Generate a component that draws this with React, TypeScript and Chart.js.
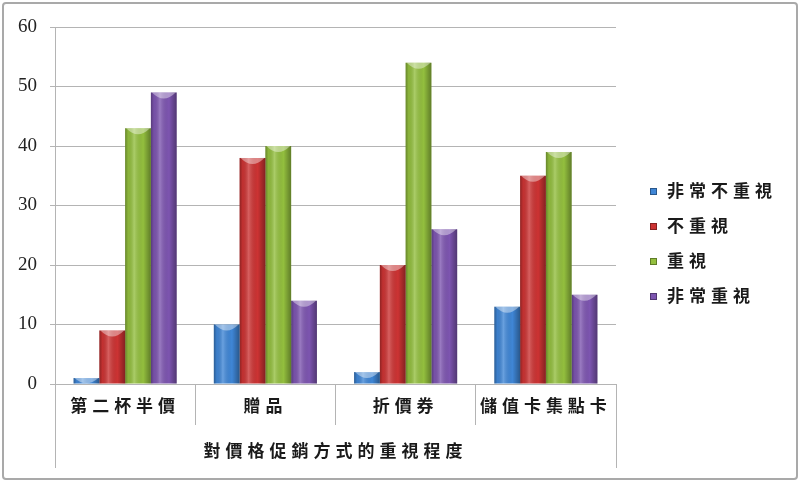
import { useEffect, useRef } from "react";
import { Chart, registerables } from "chart.js";

Chart.register(...registerables);

// 資料
const categories = ["第二杯半價", "贈品", "折價券", "儲值卡集點卡"];
const seriesNames = ["非常不重視", "不重視", "重視", "非常重視"];
const veryUnimportant = [1, 10, 2, 13];
const unimportant = [9, 38, 20, 35];
const important = [43, 40, 54, 39];
const veryImportant = [49, 14, 26, 15];
const yTicks = [0, 10, 20, 30, 40, 50, 60];
const axisTitle = "對價格促銷方式的重視程度";

const colors = ["#3F86D6", "#CC3333", "#93BF3E", "#7D55B0"];
const gridColor = "#b4b4b4";
const cjk = '"Noto Sans CJK TC", sans-serif';

// 長條的立體光影
const barShade = {
  id: "barShade",
  afterDatasetsDraw(chart: any) {
    const ctx = chart.ctx;
    chart.data.datasets.forEach((_ds: any, i: number) => {
      chart.getDatasetMeta(i).data.forEach((bar: any) => {
        const { x, y, width, base } = bar.getProps(["x", "y", "width", "base"], true);
        const l = x - width / 2;
        const h = base - y;
        if (h <= 0) return;
        ctx.save();
        const g = ctx.createLinearGradient(l, 0, l + width, 0);
        g.addColorStop(0, "rgba(0,0,0,0.30)");
        g.addColorStop(0.12, "rgba(0,0,0,0.05)");
        g.addColorStop(0.35, "rgba(255,255,255,0.22)");
        g.addColorStop(0.7, "rgba(0,0,0,0)");
        g.addColorStop(1, "rgba(0,0,0,0.35)");
        ctx.fillStyle = g;
        ctx.fillRect(l, y, width, h);
        const cap = Math.min(6, h);
        ctx.fillStyle = "rgba(255,255,255,0.4)";
        ctx.beginPath();
        ctx.moveTo(l + 1, y);
        ctx.lineTo(l + width - 1, y);
        ctx.quadraticCurveTo(x, y + cap * 2, l + 1, y);
        ctx.fill();
        ctx.restore();
      });
    });
  },
};

// 外框延伸線
const outerLines = {
  id: "outerLines",
  afterDraw(chart: any) {
    const { ctx, scales } = chart;
    const xs = scales.x;
    ctx.save();
    ctx.strokeStyle = gridColor;
    ctx.lineWidth = 1;
    [xs.left, xs.right].forEach((px: number) => {
      ctx.beginPath();
      ctx.moveTo(Math.round(px) + 0.5, xs.top);
      ctx.lineTo(Math.round(px) + 0.5, xs.top + 84);
      ctx.stroke();
    });
    ctx.restore();
  },
};

// 右側圖例
const sideLegend = {
  id: "sideLegend",
  afterDraw(chart: any) {
    const ctx = chart.ctx;
    ctx.save();
    ctx.font = `bold 17px ${cjk}`;
    ctx.letterSpacing = "5px";
    ctx.textBaseline = "middle";
    chart.data.datasets.forEach((ds: any, i: number) => {
      const yy = 191 + i * 35;
      ctx.fillStyle = ds.backgroundColor;
      ctx.fillRect(650, yy - 3, 7, 7);
      ctx.strokeStyle = "rgba(0,0,0,0.35)";
      ctx.strokeRect(650.5, yy - 2.5, 6, 6);
      ctx.fillStyle = "#1a1a1a";
      ctx.fillText(ds.label, 667, yy);
    });
    ctx.restore();
  },
};

const spaced = (scale: any) => {
  if (scale._spaced) return;
  scale._spaced = true;
  const labels = scale.drawLabels.bind(scale);
  const title = scale.drawTitle.bind(scale);
  scale.drawLabels = (area: any) => {
    scale.ctx.letterSpacing = "5px";
    labels(area);
    scale.ctx.letterSpacing = "0px";
  };
  scale.drawTitle = (area: any) => {
    scale.ctx.letterSpacing = "5px";
    title(area);
    scale.ctx.letterSpacing = "0px";
  };
};

export default function App() {
  const canva = useRef<HTMLCanvasElement | null>(null);

  useEffect(() => {
    document.body.style.margin = "0";
    if (!canva.current) return;

    const values = [veryUnimportant, unimportant, important, veryImportant];

    const chart = new Chart(canva.current, {
      type: "bar",
      data: {
        labels: categories,
        datasets: seriesNames.map((name, i) => ({
          label: name,
          data: values[i],
          backgroundColor: colors[i],
          borderWidth: 0,
          categoryPercentage: 0.735,
          barPercentage: 1,
        })),
      },
      options: {
        animation: false,
        responsive: false,
        layout: { padding: { top: 27, right: 184, bottom: 0, left: 0 } },
        plugins: {
          legend: { display: false },
          tooltip: { enabled: false },
        },
        scales: {
          x: {
            grid: { drawOnChartArea: false, drawTicks: true, tickLength: 41, color: gridColor, offset: true },
            border: { color: gridColor },
            ticks: {
              padding: -30,
              autoSkip: false,
              maxRotation: 0,
              color: "#1a1a1a",
              font: { family: cjk, size: 17, weight: "bold" },
            },
            title: {
              display: true,
              text: axisTitle,
              color: "#1a1a1a",
              font: { family: cjk, size: 17, weight: "bold" },
              padding: { top: 0, bottom: 21 },
            },
            afterFit: (s: any) => {
              s.height = 98;
              spaced(s);
            },
          },
          y: {
            min: 0,
            max: 60,
            afterBuildTicks: (s: any) => {
              s.ticks = yTicks.map((v) => ({ value: v }));
            },
            grid: { color: gridColor, tickLength: 5 },
            border: { color: gridColor },
            ticks: {
              padding: 13,
              color: "#222",
              font: { family: '"Liberation Serif", serif', size: 19 },
            },
            afterFit: (s: any) => {
              s.width = 55;
            },
          },
        },
      },
      plugins: [barShade, outerLines, sideLegend],
    });

    return () => {
      chart.destroy();
    };
  }, []);

  return (
    <div style={{ position: "relative", width: 800, height: 482 }}>
      <canvas ref={canva} width={800} height={482} style={{ display: "block" }} />
      <div
        style={{
          position: "absolute",
          left: 2,
          top: 2,
          width: 792,
          height: 474,
          border: "2px solid #a9a9a9",
          borderRadius: 4,
          pointerEvents: "none",
        }}
      />
    </div>
  );
}
